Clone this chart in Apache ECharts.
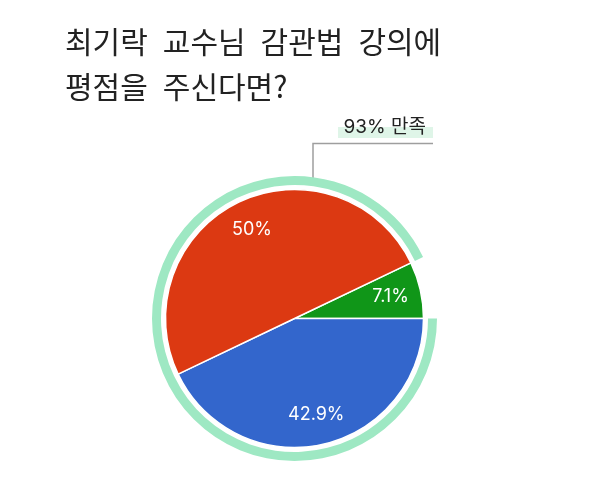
<!DOCTYPE html>
<html>
<head>
<meta charset="utf-8">
<script src="https://cdn.jsdelivr.net/npm/echarts@6/dist/echarts.min.js"></script>
<style>
    html, body { margin: 0; padding: 0; background: #fff; }
    #main { width: 594px; height: 494px; }
</style>
</head>
<body>
<div id="main"></div>
<script>
// 응답 비율 (%)
var categories = ['불만족', '보통', '만족'];
var values = [7.1, 42.9, 50];
var colors = ['#109618', '#3366cc', '#dc3912'];
var ringLabel = '93% 만족';
var titleLines = ['최기락 교수님 감관법 강의에', '평점을 주신다면?'];

var CX = 294.5, CY = 318.5;
var FONT = 'Inter, "Noto Sans CJK KR", sans-serif';

var total = values.reduce(function (a, b) { return a + b; }, 0);
var satisfied = values[1] + values[2];
var startAngle = 360 * values[0] / total;

var pieData = categories.map(function (name, i) {
    return { name: name, value: values[i], itemStyle: { color: colors[i] } };
});

var myChart = echarts.init(document.getElementById('main'));

var option = {
    animation: false,
    title: {
        // 단어 사이 간격이 넓어서 en space 사용
        text: titleLines.map(function (s) { return s.replace(/ /g, '\u2002'); }).join('\n'),
        left: 60,
        top: 14,
        textStyle: {
            fontFamily: 'Noto Sans CJK KR',
            fontSize: 30,
            fontWeight: 'normal',
            lineHeight: 45,
            color: '#222'
        }
    },
    series: [
        {
            // 바깥 링 (만족 비율)
            type: 'pie',
            center: [CX, CY],
            radius: [133.5, 142.5],
            startAngle: startAngle,
            clockwise: true,
            silent: true,
            z: 1,
            label: {
                show: true,
                position: 'outside',
                fontFamily: FONT,
                fontSize: 19,
                color: '#222'
            },
            labelLine: { show: true, lineStyle: { color: '#9e9e9e', width: 1.5 } },
            labelLayout: function (params) {
                if (params.dataIndex === 1) {
                    return {
                        x: 426, y: 127, align: 'right', verticalAlign: 'middle',
                        labelLinePoints: [[313, 182], [313, 143.5], [433, 143.5]]
                    };
                }
                return { x: 338, y: 127, align: 'left', verticalAlign: 'top' };
            },
            data: [
                {
                    name: '', value: values[0],
                    itemStyle: { color: 'rgba(0,0,0,0)' },
                    label: {
                        formatter: ' ',
                        width: 95, height: 11, padding: 0,
                        backgroundColor: '#dff5e8'
                    },
                    labelLine: { show: false }
                },
                {
                    name: ringLabel, value: satisfied,
                    itemStyle: { color: '#9ee8c3' },
                    label: { formatter: ringLabel }
                }
            ]
        },
        {
            type: 'pie',
            center: [CX, CY],
            radius: [0, 129],
            startAngle: startAngle,
            clockwise: true,
            silent: true,
            z: 2,
            label: { show: false },
            labelLine: { show: false },
            itemStyle: { borderColor: '#fff', borderWidth: 1.5 },
            data: pieData
        },
        {
            // 퍼센트 라벨용 투명 레이어
            type: 'pie',
            center: [CX, CY],
            radius: [62, 129],
            startAngle: startAngle,
            clockwise: true,
            silent: true,
            z: 3,
            itemStyle: { color: 'rgba(0,0,0,0)' },
            label: {
                show: true,
                position: 'inside',
                fontFamily: FONT,
                fontSize: 18,
                color: '#fff',
                formatter: function (p) { return p.value + '%'; }
            },
            labelLine: { show: false },
            data: categories.map(function (name, i) {
                return { name: name, value: values[i] };
            })
        }
    ]
};

myChart.setOption(option);
</script>
</body>
</html>
